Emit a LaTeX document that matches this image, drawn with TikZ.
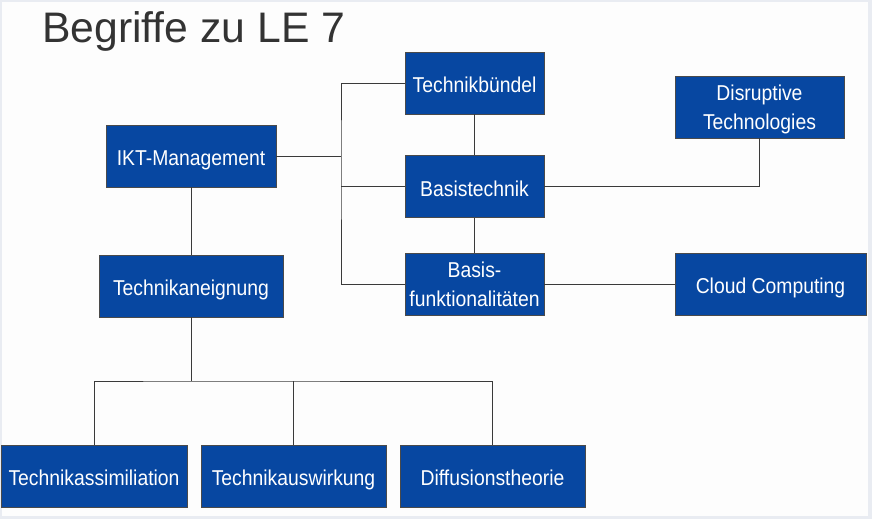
\documentclass[tikz,border=0pt]{standalone}
\usepackage{fontspec}
\setmainfont{Liberation Sans}
\newfontfamily\boxfont[FakeStretch=0.9]{Liberation Sans}
\definecolor{boxblue}{HTML}{0747A1}
\definecolor{boxline}{HTML}{4A4A4A}
\definecolor{conn}{HTML}{3A3A3A}
\definecolor{titlegray}{HTML}{333333}
\definecolor{bgcol}{HTML}{FDFDFD}
\definecolor{bgedge}{HTML}{E9ECF2}
\begin{document}
\begin{tikzpicture}[x=1pt,y=-1pt,
  termbox/.style={draw=boxline, line width=0.8pt, fill=boxblue, text=white,
    inner sep=0pt, align=center, minimum height=62pt,
    font=\boxfont\fontsize{21.5}{29}\selectfont},
  oneline/.style={termbox, text height=20pt, text depth=1pt},
  twoline/.style={termbox, text height=45pt, text depth=0pt},
  link/.style={draw=conn, line width=0.9pt}]
\fill[bgedge] (0,0) rectangle (872,519);
\fill[bgcol] (2,2) rectangle (868,516);
\useasboundingbox (0,0) rectangle (872,519);

\node[anchor=base west, text=titlegray, font=\fontsize{42.7}{48}\selectfont, inner sep=0pt] (title) at (42,43) {Begriffe zu LE 7};

\node[oneline, minimum width=139pt] (tb) at (474.5,83) {Technikbündel};
\node[oneline, minimum width=170pt] (ikt) at (191,156) {IKT-Management};
\node[oneline, minimum width=139pt] (bt) at (474.5,186.5) {Basistechnik};
\node[twoline, minimum width=139pt] (bf) at (474.5,284) {Basis-\\funktionalitäten};
\node[twoline, minimum width=169pt] (dt) at (759.5,107) {Disruptive\\Technologies};
\node[oneline, minimum width=191pt] (cc) at (770.5,284) {Cloud Computing};
\node[oneline, minimum width=184pt] (ta) at (191,286) {Technikaneignung};
\node[oneline, minimum width=186pt] (tas) at (94,476) {Technikassimiliation};
\node[oneline, minimum width=185pt] (tau) at (293.5,476) {Technikauswirkung};
\node[oneline, minimum width=185pt] (dif) at (492.5,476) {Diffusionstheorie};

\coordinate (jx) at (341,156);
\coordinate (bus) at (191,381);

% right-hand tree
\draw[link] (tb.west) -| (jx) |- (bf.west);
\draw[link] (ikt.east) -- (jx);
\draw[link] (bt.west) -- (bt.west -| jx);
\draw[link] (tb.south) -- (bt.north);
\draw[link] (bt.south) -- (bf.north);
\draw[link] (bt.east) -| (dt.south);
\draw[link] (bf.east) -- (cc.west);

% left-hand tree
\draw[link] (ikt.south) -- (ta.north);
\draw[link] (ta.south) -- (bus);
\draw[link] (tas.north) |- (bus) -| (dif.north);
\draw[link] (tau.north) -- (tau.north |- bus);
\end{tikzpicture}
\end{document}
